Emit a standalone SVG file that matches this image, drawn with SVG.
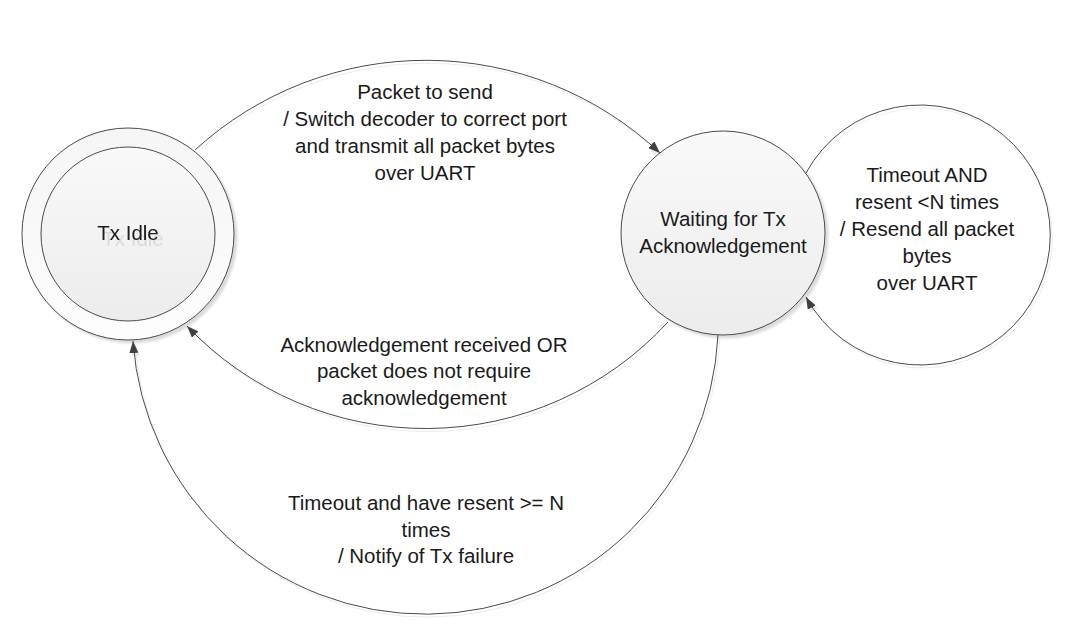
<svg xmlns="http://www.w3.org/2000/svg" width="1071" height="627" viewBox="0 0 1071 627">
  <style>
    .lbl { font-family: "Liberation Sans", Arial, sans-serif; font-size: 20.5px; fill: #1a1a1a; text-anchor: middle; }
    .edge { fill: none; stroke: #4a4a4a; stroke-width: 1; marker-end: url(#arrow); }
    .node { stroke: #4a4a4a; stroke-width: 1; }
  </style>
  <defs>
    <linearGradient id="gFill" x1="0" y1="0" x2="0" y2="1">
      <stop offset="0" stop-color="#f9f9f9"/>
      <stop offset="1" stop-color="#ececec"/>
    </linearGradient>
    <linearGradient id="gOuter" x1="0" y1="0" x2="0" y2="1">
      <stop offset="0" stop-color="#f5f5f5"/>
      <stop offset="1" stop-color="#fdfdfd"/>
    </linearGradient>
    <filter id="nodeShadow" x="-20%" y="-20%" width="140%" height="140%">
      <feDropShadow dx="3" dy="3" stdDeviation="1" flood-color="#000" flood-opacity="0.14"/>
    </filter>
    <filter id="edgeShadow" x="-10%" y="-10%" width="120%" height="120%">
      <feDropShadow dx="2" dy="3" stdDeviation="0.4" flood-color="#000" flood-opacity="0.08"/>
    </filter>
    <filter id="textShadow" x="-20%" y="-50%" width="140%" height="200%">
      <feDropShadow dx="5" dy="6" stdDeviation="0.6" flood-color="#000" flood-opacity="0.1"/>
    </filter>
    <marker id="arrow" viewBox="0 0 12 9" refX="12" refY="4.5" markerWidth="12" markerHeight="9" markerUnits="userSpaceOnUse" orient="auto">
      <path d="M0,0 L12,4.5 L0,9 z" fill="#404040"/>
    </marker>
  </defs>
  <rect x="0" y="0" width="1071" height="627" fill="#ffffff"/>

  <g id="node-tx-idle">
    <circle class="node" cx="128" cy="234" r="106" fill="url(#gOuter)" filter="url(#nodeShadow)"/>
    <circle class="node" cx="128" cy="234" r="87" fill="url(#gFill)"/>
    <text class="lbl" x="128" y="240" filter="url(#textShadow)">Tx Idle</text>
  </g>

  <g id="node-waiting">
    <circle class="node" cx="723" cy="233" r="102" fill="url(#gFill)" filter="url(#nodeShadow)"/>
    <text class="lbl" x="723" y="226">Waiting for Tx</text>
    <text class="lbl" x="723" y="253">Acknowledgement</text>
  </g>

  <g id="connectors" filter="url(#edgeShadow)">
    <path id="e-send" class="edge" d="M195,150 A342,342 0 0 1 660,153"/>
    <path id="e-resend" class="edge" d="M806,173 A130,130 0 1 1 806,297"/>
    <path id="e-ack" class="edge" d="M668,322 A329,329 0 0 1 187,326"/>
    <path id="e-fail" class="edge" d="M718,335 A293,293 0 0 1 133,341"/>
  </g>

  <g id="edge-labels">
    <text class="lbl" x="425" y="99">Packet to send</text>
    <text class="lbl" x="425" y="126">/ Switch decoder to correct port</text>
    <text class="lbl" x="425" y="153">and transmit all packet bytes</text>
    <text class="lbl" x="425" y="180">over UART</text>

    <text class="lbl" x="927" y="182">Timeout AND</text>
    <text class="lbl" x="927" y="209">resent &lt;N times</text>
    <text class="lbl" x="927" y="236">/ Resend all packet</text>
    <text class="lbl" x="927" y="263">bytes</text>
    <text class="lbl" x="927" y="290">over UART</text>

    <text class="lbl" x="424" y="352">Acknowledgement received OR</text>
    <text class="lbl" x="424" y="378">packet does not require</text>
    <text class="lbl" x="424" y="405">acknowledgement</text>

    <text class="lbl" x="426" y="510">Timeout and have resent &gt;= N</text>
    <text class="lbl" x="426" y="537">times</text>
    <text class="lbl" x="426" y="563">/ Notify of Tx failure</text>
  </g>
</svg>
